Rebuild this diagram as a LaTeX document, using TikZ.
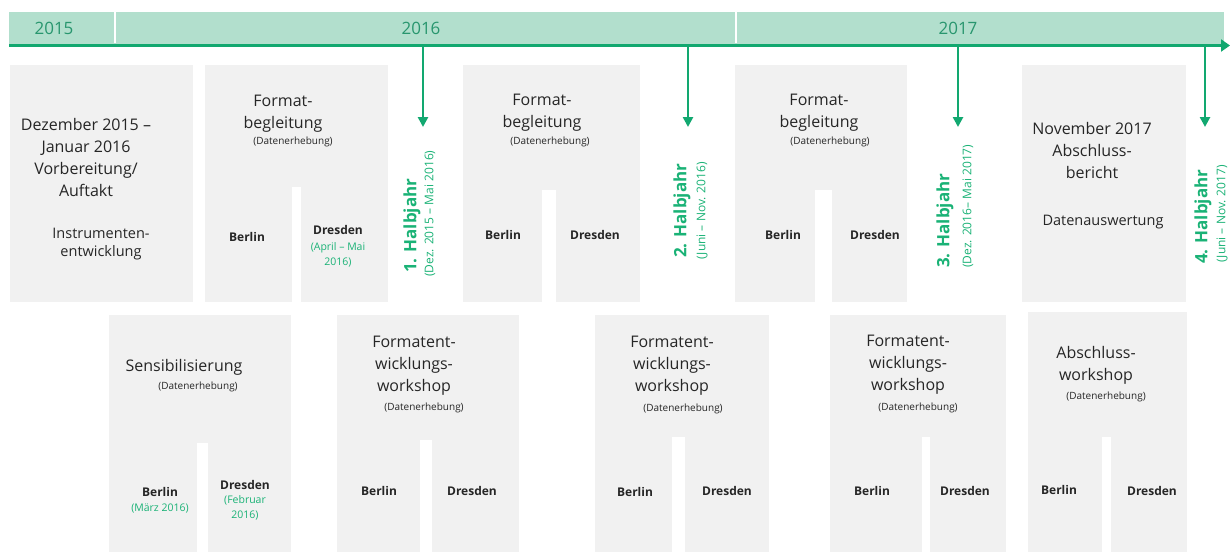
\documentclass[tikz,border=0pt]{standalone}
\usepackage{fontspec}
\setmainfont{Open Sans}
\usetikzlibrary{arrows.meta}
\definecolor{tlgreen}{RGB}{18,168,112}
\definecolor{bandfill}{RGB}{178,223,205}
\definecolor{boxgray}{RGB}{241,241,241}
\definecolor{txt}{RGB}{38,38,38}
\definecolor{lblgreen}{RGB}{26,178,118}
\definecolor{yeargreen}{RGB}{40,150,110}
\begin{document}
\begin{tikzpicture}[x=1pt,y=-1pt,
  gbox/.style={fill=boxgray},
  bigtxt/.style={font=\fontsize{16}{22}\selectfont, text=txt, align=center, inner sep=0pt},
  midtxt/.style={font=\fontsize{14.5}{18}\selectfont, text=txt, align=center, inner sep=0pt},
  datatxt/.style={font=\fontsize{10}{11}\selectfont, text=txt, inner sep=0pt},
  city/.style={font=\fontsize{12}{13}\selectfont\bfseries, text=txt, inner sep=0pt},
  gnote/.style={font=\fontsize{10.5}{15}\selectfont, text=lblgreen, align=center, inner sep=0pt},
  yeartxt/.style={font=\fontsize{17}{17}\selectfont, text=yeargreen, inner sep=0pt},
  halfbig/.style={rotate=90, anchor=west, inner sep=0pt, text=lblgreen, font=\fontsize{17}{17}\selectfont\bfseries},
  halfsmall/.style={rotate=90, anchor=west, inner sep=0pt, text=lblgreen, font=\fontsize{12}{12}\selectfont},
  downarrow/.style={draw=tlgreen, line width=2.6pt, -{Triangle[width=10pt,length=10pt]}},
]
\useasboundingbox (0,0) rectangle (1230,555);

% ---------- timeline band ----------
\fill[bandfill] (9,12) rectangle (1224,45);
\draw[white, line width=1.5pt] (115,12) -- (115,43);
\draw[white, line width=1.5pt] (736,12) -- (736,43);
\coordinate (tlstart) at (9,45.5);
\coordinate (tlend) at (1230,45.5);
\draw[tlgreen, line width=3.5pt, -{Triangle[width=12pt,length=9pt]}] (tlstart) -- (tlend);
\node[yeartxt] (y2015) at (54,28) {2015};
\node[yeartxt] (y2016) at (421,28) {2016};
\node[yeartxt] (y2017) at (958,28) {2017};

% ---------- top row boxes ----------
\fill[gbox] (10,65) rectangle (193,302);
\fill[gbox] (205,65) rectangle (388,187);
\fill[gbox] (205,187) rectangle (292,302);
\fill[gbox] (301,187) rectangle (388,302);
\fill[gbox] (463,65) rectangle (640,190);
\fill[gbox] (463,190) rectangle (542,302);
\fill[gbox] (556,190) rectangle (640,302);
\fill[gbox] (735,65) rectangle (907,190);
\fill[gbox] (735,190) rectangle (815,302);
\fill[gbox] (832,190) rectangle (907,302);
\fill[gbox] (1022,65) rectangle (1186,302);

% ---------- bottom row boxes ----------
\fill[gbox] (109,315) rectangle (291,443);
\fill[gbox] (109,443) rectangle (197,552);
\fill[gbox] (208,443) rectangle (291,552);
\fill[gbox] (337,315) rectangle (519,440);
\fill[gbox] (337,440) rectangle (420,552);
\fill[gbox] (432,440) rectangle (519,552);
\fill[gbox] (595,315) rectangle (769,437);
\fill[gbox] (595,437) rectangle (672,552);
\fill[gbox] (685,437) rectangle (769,552);
\fill[gbox] (830,315) rectangle (1006,437);
\fill[gbox] (830,437) rectangle (922,552);
\fill[gbox] (930,437) rectangle (1006,552);
\fill[gbox] (1028,312) rectangle (1187,437);
\fill[gbox] (1028,437) rectangle (1102,552);
\fill[gbox] (1111,437) rectangle (1187,552);

% ---------- half-year arrows ----------
\coordinate (h1top) at (423,47);  \coordinate (h1tip) at (423,127);
\coordinate (h2top) at (688,47);  \coordinate (h2tip) at (688,127);
\coordinate (h3top) at (958,47);  \coordinate (h3tip) at (958,127);
\coordinate (h4top) at (1205,47); \coordinate (h4tip) at (1205,127);
\draw[downarrow] (h1top) -- (h1tip);
\draw[downarrow] (h2top) -- (h2tip);
\draw[downarrow] (h3top) -- (h3tip);
\draw[downarrow] (h4top) -- (h4tip);

\node[halfbig] (h1a) at (412,273) {1. Halbjahr};
\node[halfsmall] (h1b) at (430,277) {(Dez. 2015 – Mai 2016)};
\node[halfbig] (h2a) at (682,258) {2. Halbjahr};
\node[halfsmall] (h2b) at (702,260) {(Juni – Nov. 2016)};
\node[halfbig] (h3a) at (945,268) {3. Halbjahr};
\node[halfsmall] (h3b) at (968,268) {(Dez. 2016– Mai 2017)};
\node[halfbig] (h4a) at (1203,264) {4. Halbjahr};
\node[halfsmall] (h4b) at (1222,263) {(Juni – Nov. 2017)};

% ---------- top row texts ----------
\node[bigtxt] (prep) at (86,157) {Dezember 2015 –\\Januar 2016\\Vorbereitung/\\Auftakt};
\node[midtxt] (instr) at (101,244) {Instrumenten-\\entwicklung};

\node[bigtxt] (fb1) at (283,114) {Format-\\begleitung};
\node[datatxt] (fb1d) at (293,142) {(Datenerhebung)};
\node[city] (fb1b) at (247,237) {Berlin};
\node[city] (fb1dr) at (338,230) {Dresden};
\node[gnote] (fb1n) at (338,255) {(April – Mai\\2016)};

\node[bigtxt] (fb2) at (542,113) {Format-\\begleitung};
\node[datatxt] (fb2d) at (550,142) {(Datenerhebung)};
\node[city] (fb2b) at (503,235) {Berlin};
\node[city] (fb2dr) at (595,235) {Dresden};

\node[bigtxt] (fb3) at (819,113) {Format-\\begleitung};
\node[datatxt] (fb3d) at (830,142) {(Datenerhebung)};
\node[city] (fb3b) at (783,235) {Berlin};
\node[city] (fb3dr) at (875,235) {Dresden};

\node[bigtxt] (final) at (1092,150) {November 2017\\Abschluss-\\bericht};
\node[midtxt] (eval) at (1103,222) {Datenauswertung};

% ---------- bottom row texts ----------
\node[bigtxt] (sens) at (184,367) {Sensibilisierung};
\node[datatxt] (sensd) at (198,387) {(Datenerhebung)};
\node[city] (sensb) at (160,492) {Berlin};
\node[gnote] (sensbn) at (160,508) {(März 2016)};
\node[city] (sensdr) at (245,485) {Dresden};
\node[gnote] (sensdn) at (245,508) {(Februar\\2016)};

\node[bigtxt] (fw1) at (414,366) {Formatent-\\wicklungs-\\workshop};
\node[datatxt] (fw1d) at (424,408) {(Datenerhebung)};
\node[city] (fw1b) at (379,491) {Berlin};
\node[city] (fw1dr) at (472,491) {Dresden};

\node[bigtxt] (fw2) at (672,366) {Formatent-\\wicklungs-\\workshop};
\node[datatxt] (fw2d) at (683,409) {(Datenerhebung)};
\node[city] (fw2b) at (635,492) {Berlin};
\node[city] (fw2dr) at (727,491) {Dresden};

\node[bigtxt] (fw3) at (908,365) {Formatent-\\wicklungs-\\workshop};
\node[datatxt] (fw3d) at (918,408) {(Datenerhebung)};
\node[city] (fw3b) at (872,491) {Berlin};
\node[city] (fw3dr) at (965,491) {Dresden};

\node[bigtxt] (aw) at (1096,365) {Abschluss-\\workshop};
\node[datatxt] (awd) at (1106,397) {(Datenerhebung)};
\node[city] (awb) at (1059,490) {Berlin};
\node[city] (awdr) at (1152,491) {Dresden};
\end{tikzpicture}
\end{document}
